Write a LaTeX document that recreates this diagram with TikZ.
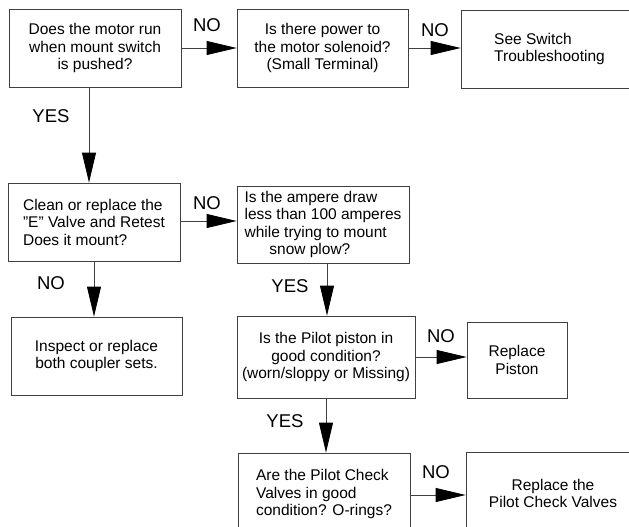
\documentclass[tikz,border=0pt]{standalone}
\usepackage{fontspec}
\setmainfont{Liberation Sans}
\usepackage{xcolor}
\usetikzlibrary{positioning,calc,arrows.meta}

\begin{document}
\begin{tikzpicture}[x=1pt, y=-1pt, >={Triangle[length=30pt,width=14pt,color=black]}, line width=0.8pt,
  box/.style={draw=black!75, inner sep=0pt, align=center, font=\fontsize{15.5}{17.5}\selectfont},
  lbl/.style={inner sep=0pt, font=\fontsize{18.5}{20}\selectfont}]
  % Page area: the two lower boxes and the right column run past the edge.
  \useasboundingbox (0,0) rectangle (629,527);
  \clip (0,0) rectangle (629,527);

  % Left column
\node[box, minimum width=172pt, minimum height=78pt] (motor) at (95,48) {Does the motor run\\when mount switch\\is pushed?};
\node[box, align=left, minimum width=172pt, minimum height=78pt] (evalve) at (94,222) {Clean or replace the\\\symbol{34}E\symbol{34} Valve and Retest\\Does it mount?};
\node[box, minimum width=171pt, minimum height=78pt] (coupler) at (96.5,356) {Inspect or replace\\both coupler sets.};

  % Middle column
\node[box, minimum width=171pt, minimum height=78pt] (power) at (322.5,48) {Is there power to\\the motor solenoid?\\(Small Terminal)};
\node[box, align=left, minimum width=172pt, minimum height=77pt] (ampere) at (323,224.5) {Is the ampere draw\\less than 100 amperes\\while trying to mount\\\hspace*{1.6em}snow plow?};
\node[box, minimum width=178pt, minimum height=82pt] (piston) at (326,357) {Is the Pilot piston in\\good condition?\\(worn/sloppy or Missing)};
\node[box, align=left, minimum width=172pt, minimum height=82pt] (check) at (324,494) {Are the Pilot Check\\Valves in good\\condition? O-rings?};

  % Right column
\node[box, align=left, minimum width=177pt, minimum height=78pt] (switch) at (549.5,49) {See Switch\\Troubleshooting};
\node[box, minimum width=100pt, minimum height=76pt] (newpiston) at (517,360) {Replace\\Piston};
\node[box, minimum width=174pt, minimum height=83pt] (newcheck) at (553,493.5) {Replace the\\Pilot Check Valves};

  % Connectors
  \draw[->, black!75] (motor.east) -- (motor.east -| power.west);
  \draw[->, black!75] (power.east) -- (power.east -| switch.west);
  \draw[->, black!75] ([xshift=-6pt]motor.south) -- ([xshift=-6pt]motor.south |- evalve.north);
  \draw[->, black!75] ([yshift=1pt]evalve.east) -- ([yshift=1pt]evalve.east -| ampere.west);
  \draw[->, black!75] (evalve.south) -- (evalve.south |- coupler.north);
  \draw[->, black!75] ([xshift=4pt]ampere.south) -- ([xshift=4pt]ampere.south |- piston.north);
  \draw[->, black!75] (piston.east) -- (piston.east -| newpiston.west);
  \draw[->, black!75] (piston.south) -- (piston.south |- check.north);
  \draw[->, black!75] ([yshift=-1pt]check.east) -- ([yshift=-1pt]check.east -| newcheck.west);

  % Answers
\node[lbl] (no1) at (207,25) {NO};
\node[lbl] (no2) at (435,30) {NO};
\node[lbl] (yes1) at (51,116) {YES};
\node[lbl] (no3) at (207,203) {NO};
\node[lbl] (no4) at (51,283) {NO};
\node[lbl] (yes2) at (290,286) {YES};
\node[lbl] (no5) at (441,336) {NO};
\node[lbl] (yes3) at (285,421) {YES};
\node[lbl] (no6) at (436,472) {NO};
\end{tikzpicture}
\end{document}
